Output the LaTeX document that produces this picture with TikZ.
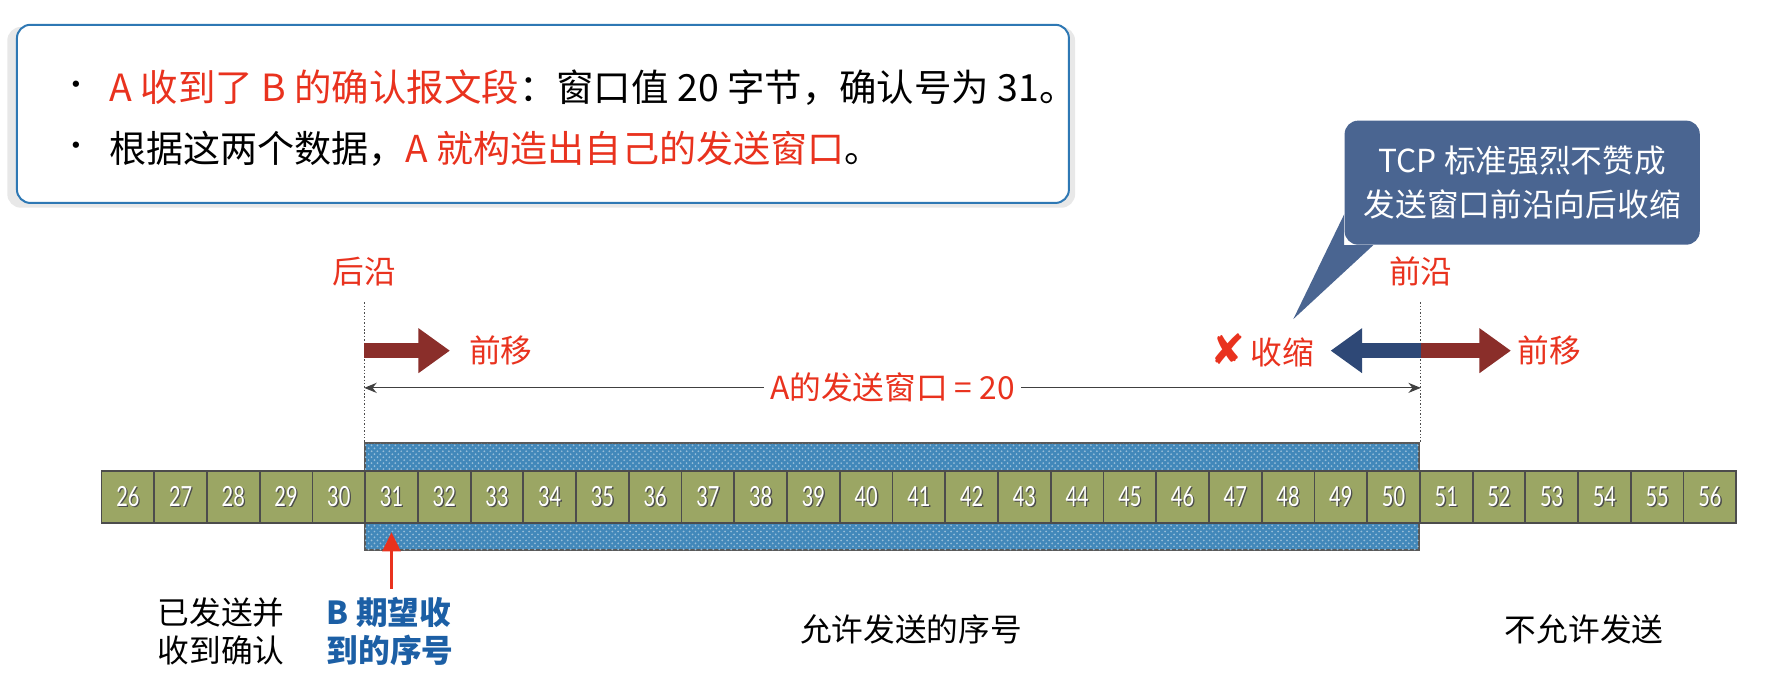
\documentclass[tikz,border=0pt]{standalone}
\usepackage{fontspec}
\setmainfont{Noto Sans CJK SC}
\newfontfamily\numfont[FakeStretch=0.72]{Lato}
\newfontfamily\symfont{DejaVu Sans}
\usetikzlibrary{arrows.meta,shadows,patterns,positioning}

\definecolor{txtred}{RGB}{233,50,30}
\definecolor{txtblue}{RGB}{28,95,165}
\definecolor{boxblue}{RGB}{46,120,180}
\definecolor{callblue}{RGB}{74,101,145}
\definecolor{cellgreen}{RGB}{155,166,100}
\definecolor{winblue}{RGB}{66,136,186}
\definecolor{fatred}{RGB}{138,46,42}
\definecolor{fatblue}{RGB}{46,72,118}

\newcommand{\shnum}[1]{{\color{black!70}\rlap{\kern0.7pt\raisebox{-0.7pt}{#1}}}#1}

\tikzset{
  txt/.style={font=\fontsize{16}{22}\selectfont, inner sep=1pt},
  redtxt/.style={txt, text=txtred},
  cell/.style={draw=black!70, line width=0.9pt, fill=cellgreen, minimum width=9.354mm,
    minimum height=9.2mm, inner sep=0pt, text=white, font=\numfont\fontsize{14}{14}\selectfont},
  winbox/.style={draw=black!65, line width=0.9pt, fill=winblue,
    postaction={pattern=crosshatch dots, pattern color=winblue!55!white}},
  fatarrow/.style={line width=2.6mm, -{Triangle[length=5.6mm,width=7.6mm]}},
  dimline/.style={black!75, line width=0.6pt, {Stealth[length=2.2mm,width=1.8mm]}-{Stealth[length=2.2mm,width=1.8mm]}},
  edgemark/.style={black!70, line width=0.7pt, densely dotted}
}

\begin{document}
\begin{tikzpicture}[x=0.2mm, y=-0.2mm]
  \fill[white] (0,0) rectangle (1568,619);
  \useasboundingbox (0,0) rectangle (1568,619);

  % info box
  \draw[draw=boxblue, line width=1pt, fill=white, rounded corners=2.4mm,
    drop shadow={opacity=0.18, shadow xshift=-0.3mm, shadow yshift=-0.6mm, shadow scale=1.015}]
    (15,22) rectangle (948,180);
  \node[txt] (b1) at (68,78) {\fontsize{15}{15}\selectfont •};
  \node[txt, anchor=west, font=\fontsize{18.9}{22}\selectfont] (l1) at (95,78)
    {\textcolor{txtred}{A 收到了 B 的确认报文段}：窗口值 20 字节，确认号为 31。};
  \node[txt] (b2) at (68,132) {\fontsize{15}{15}\selectfont •};
  \node[txt, anchor=west, font=\fontsize{18.7}{22}\selectfont] (l2) at (95,132)
    {根据这两个数据，\textcolor{txtred}{A 就构造出自己的发送窗口}。};

  % window and cells
  \draw[winbox] (323.85,393) rectangle (1258.35,488);
  \foreach \n [count=\i from 0] in {26,...,56}
    \node[cell] (c\n) at ({113.385+46.77*\i},441) {\shnum{\n}};

  % edges of the window
  \coordinate (rtop) at (c31.west |- 0,268);
  \coordinate (ftop) at (c50.east |- 0,268);
  \draw[edgemark] (rtop) -- (c31.west |- 0,393);
  \draw[edgemark] (ftop) -- (c50.east |- 0,393);
  \node[redtxt] (rear) at (c31.west |- 0,241) {后沿};
  \node[redtxt] (front) at (c50.east |- 0,241) {前沿};

  \coordinate (rmove) at (c31.west |- 0,311);
  \coordinate (fmove) at (c50.east |- 0,311);
  \draw[fatarrow, fatred] (rmove) -- ++(76,0) coordinate (rtip);
  \node[redtxt, right=3mm of rtip] (rfwd) {前移};
  \draw[fatarrow, fatblue] (fmove) -- ++(-80,0) coordinate (stip);
  \node[redtxt, left=2.5mm of stip] (shrink) {{\symfont\fontsize{21}{21}\selectfont ✘}\,收缩};
  \draw[fatarrow, fatred] (fmove) -- ++(80,0) coordinate (ftip);
  \node[redtxt, right=0.8mm of ftip] (ffwd) {前移};

  \draw[dimline] (c31.west |- 0,344) -- (c50.east |- 0,344)
    node[redtxt, fill=white, inner xsep=3pt, midway] (wsize) {A的发送窗口 = 20};

  % callout
  \node[fill=callblue, rounded corners=2.4mm, minimum width=63mm, minimum height=22mm,
    align=center, text=white, font=\fontsize{16}{22}\selectfont] (tcp) at (1350,162)
    {TCP 标准强烈不赞成\\发送窗口前沿向后收缩};
  \fill[callblue] (tcp.west |- 0,190) -- (1147,283) -- (tcp.south -| 1218,0)
    -- (tcp.south west) -- cycle;

  % expected number
  \draw[txtred, line width=1.3pt, -{Triangle[length=3.4mm,width=3.2mm]}]
    (c31.south |- 0,522) -- (c31.south |- 0,472);

  \node[txt, align=center, font=\fontsize{16}{19}\selectfont] (acked) at (196,560) {已发送并\\收到确认};
  \node[txt, align=left, text=txtblue, font=\bfseries\fontsize{16}{19}\selectfont] (expect) at (346,560) {B 期望收\\到的序号};
  \node[txt] (allowed) at (808,558) {允许发送的序号};
  \node[txt] (denied) at (1405,558) {不允许发送};
\end{tikzpicture}
\end{document}
